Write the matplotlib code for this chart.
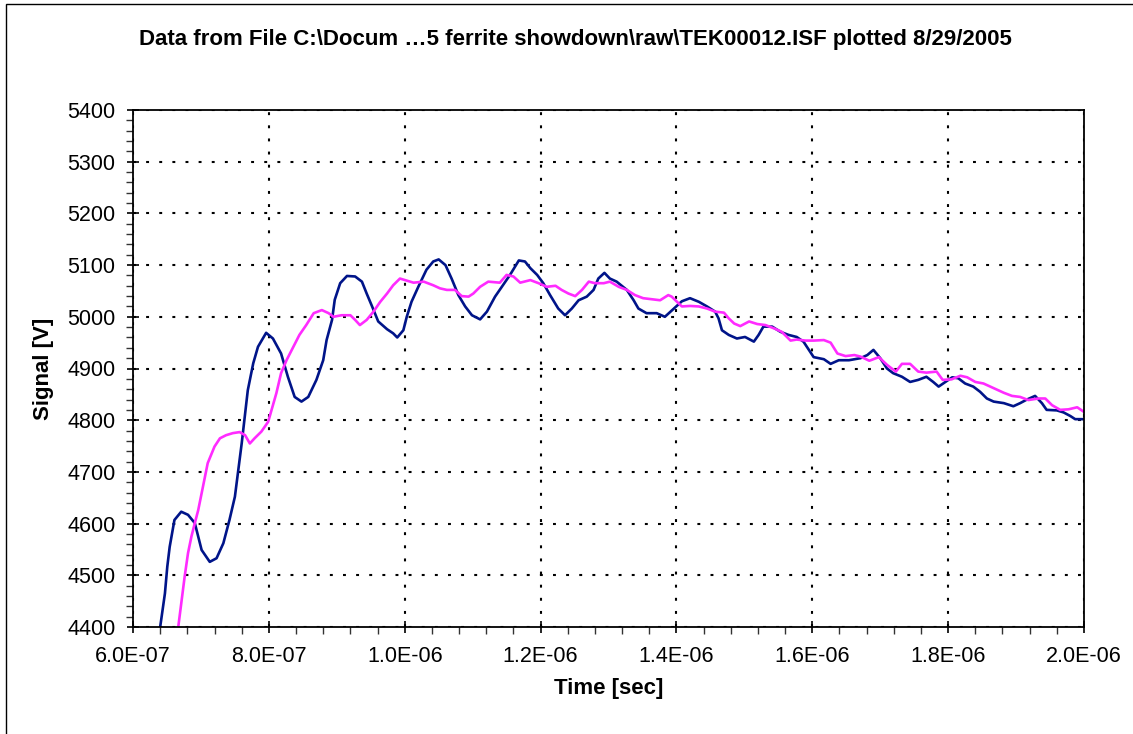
import numpy as np
from matplotlib import pyplot as plt
from matplotlib.patches import Rectangle
from matplotlib.ticker import MultipleLocator, FuncFormatter

plt.rcParams['font.family'] = ['Liberation Sans', 'DejaVu Sans']

title = "Data from File C:\\Docum \u20265 ferrite showdown\\raw\\TEK00012.ISF plotted 8/29/2005"

#blue trace (time in units of 1e-7 sec, signal in V)
t_blue = [6.40, 6.47, 6.505, 6.54, 6.61, 6.71, 6.81, 6.91, 7.01, 7.13, 7.23, 7.33, 7.42, 7.50,
          7.55, 7.60, 7.65, 7.69, 7.77, 7.84, 7.96, 8.06, 8.18, 8.28, 8.38, 8.48, 8.58, 8.70,
          8.80, 8.85, 8.93, 8.97, 9.05, 9.15, 9.27, 9.37, 9.44, 9.52, 9.61, 9.74, 9.83, 9.89,
          9.98, 10.03, 10.10, 10.20, 10.32, 10.42, 10.50, 10.60, 10.69, 10.79, 10.89, 10.99,
          11.11, 11.21, 11.33, 11.43, 11.55, 11.68, 11.77, 11.85, 11.95, 12.04, 12.14, 12.26,
          12.36, 12.46, 12.56, 12.68, 12.78, 12.85, 12.94, 13.02, 13.12, 13.27, 13.37, 13.44,
          13.56, 13.71, 13.83, 13.93, 14.08, 14.20, 14.33, 14.45, 14.57, 14.62, 14.67, 14.77,
          14.89, 15.01, 15.14, 15.21, 15.28, 15.41, 15.53, 15.65, 15.77, 15.87, 15.95, 16.02,
          16.17, 16.27, 16.39, 16.54, 16.71, 16.81, 16.90, 17.00, 17.10, 17.19, 17.32, 17.44,
          17.56, 17.68, 17.78, 17.86, 17.96, 18.06, 18.15, 18.25, 18.37, 18.47, 18.57, 18.67,
          18.82, 18.96, 19.06, 19.16, 19.28, 19.38, 19.45, 19.60, 19.70, 19.80, 19.87, 20.00]
v_blue = [4400, 4465, 4517, 4555, 4607, 4623, 4617, 4601, 4549, 4526, 4533, 4562, 4607, 4652,
          4704, 4755, 4813, 4858, 4910, 4942, 4969, 4958, 4929, 4884, 4845, 4836, 4845, 4878,
          4916, 4955, 4994, 5033, 5065, 5079, 5078, 5068, 5045, 5020, 4991, 4976, 4968, 4960,
          4974, 5000, 5029, 5058, 5091, 5107, 5111, 5100, 5074, 5042, 5020, 5003,
          4995, 5010, 5039, 5058, 5081, 5109, 5107, 5094, 5081, 5065, 5042, 5016,
          5003, 5016, 5032, 5039, 5052, 5074, 5085, 5074, 5068, 5052, 5032, 5016,
          5007, 5007, 5000, 5012, 5030, 5036, 5029, 5020, 5010, 4997, 4974, 4965,
          4958, 4961, 4952, 4965, 4981, 4981, 4971, 4965, 4961, 4952, 4936, 4922,
          4918, 4909, 4916, 4916, 4920, 4926, 4936, 4920, 4900, 4891, 4884, 4874,
          4878, 4884, 4874, 4865, 4874, 4883, 4881, 4871, 4865, 4855, 4842, 4836,
          4833, 4827, 4833, 4840, 4847, 4833, 4820, 4819, 4815, 4808, 4802, 4802]

#magenta trace
t_mag = [6.67, 6.71, 6.76, 6.81, 6.86, 6.91, 6.96, 7.01, 7.06, 7.10, 7.15, 7.20, 7.28, 7.37,
         7.47, 7.57, 7.65, 7.72, 7.79, 7.89, 7.99, 8.04, 8.11, 8.18, 8.26, 8.36, 8.45, 8.55,
         8.66, 8.78, 8.88, 8.95, 9.07, 9.20, 9.27, 9.34, 9.44, 9.54, 9.64, 9.74, 9.83, 9.93,
         10.03, 10.13, 10.28, 10.42, 10.52, 10.62, 10.74, 10.84, 10.94, 11.01, 11.11, 11.23,
         11.40, 11.50, 11.60, 11.70, 11.85, 11.97, 12.09, 12.22, 12.31, 12.41, 12.51, 12.61,
         12.71, 12.80, 12.93, 13.02, 13.15, 13.27, 13.39, 13.51, 13.64, 13.76, 13.88, 13.93,
         14.01, 14.08, 14.20, 14.33, 14.45, 14.57, 14.70, 14.77, 14.85, 14.94, 15.07, 15.19,
         15.31, 15.43, 15.55, 15.68, 15.77, 15.90, 16.02, 16.17, 16.27, 16.37, 16.49, 16.62,
         16.71, 16.84, 16.98, 17.10, 17.23, 17.32, 17.44, 17.56, 17.68, 17.83, 17.92, 18.05,
         18.18, 18.28, 18.40, 18.52, 18.67, 18.82, 18.94, 19.06, 19.18, 19.33, 19.43, 19.53,
         19.65, 19.77, 19.90, 20.00]
v_mag = [4404, 4446, 4497, 4543, 4575, 4601, 4626, 4659, 4691, 4717, 4733, 4749, 4765, 4771,
         4775, 4777, 4771, 4755, 4765, 4778, 4797, 4820, 4852, 4891, 4916, 4942, 4965, 4984,
         5007, 5013, 5007, 5000, 5003, 5003, 4994, 4984, 4994, 5010, 5029, 5045, 5061, 5074,
         5070, 5066, 5068, 5061, 5055, 5052, 5052, 5040, 5039, 5045, 5058, 5068,
         5066, 5081, 5078, 5066, 5071, 5065, 5058, 5060, 5052, 5045, 5040, 5052,
         5068, 5065, 5065, 5068, 5058, 5052, 5042, 5036, 5034, 5032, 5042, 5039,
         5029, 5020, 5021, 5020, 5016, 5010, 5008, 4997, 4987, 4982, 4991, 4986,
         4984, 4978, 4971, 4954, 4956, 4954, 4954, 4955, 4950, 4929, 4924, 4926,
         4923, 4915, 4922, 4907, 4894, 4909, 4909, 4894, 4892, 4894, 4878, 4879,
         4886, 4883, 4874, 4871, 4862, 4853, 4847, 4845, 4839, 4842, 4842, 4829,
         4820, 4821, 4825, 4816]

fig = plt.figure(figsize=(11.33, 7.34), dpi=100)
ax = fig.add_axes([133/1133, 1-627/734, (1084-133)/1133, (627-110)/734])

ax.plot(np.array(t_blue)*1e-7, v_blue, color='#001489', lw=1.9)
ax.plot(np.array(t_mag)*1e-7, v_mag, color='#ff2bff', lw=1.9)

ax.set_xlim(6e-7, 2e-6)
ax.set_ylim(4400, 5400)
ax.xaxis.set_major_locator(MultipleLocator(2e-7))
ax.xaxis.set_minor_locator(MultipleLocator(4e-8))
ax.yaxis.set_major_locator(MultipleLocator(100))
ax.yaxis.set_minor_locator(MultipleLocator(20))
ax.xaxis.set_major_formatter(FuncFormatter(lambda v, p: '%.1E' % v))

# excel style dotted grid
ax.grid(True, which='major', color='black', lw=1.5, linestyle=(0, (1.4, 4.9)))
ax.tick_params(which='major', direction='inout', length=9, width=1.2, labelsize=15.5, color='black')
ax.tick_params(which='minor', direction='out', length=5, width=1.0, color='#333333')
ax.tick_params(axis='x', which='major', pad=9)
ax.tick_params(axis='y', which='major', pad=8)
for s in ax.spines.values():
    s.set_color('black')
    s.set_linewidth(1.3)

ax.set_xlabel('Time [sec]', fontsize=16, fontweight='bold', labelpad=8)
ax.set_ylabel('Signal [V]', fontsize=16, fontweight='bold', labelpad=10)
fig.text(0.5075, 0.946, title, fontsize=16, fontweight='bold', ha='center', va='center')

# outer chart frame
fig.patches.append(Rectangle((6/1133, -0.05), 1.1, 1.05 - 4/734, transform=fig.transFigure,
                             fill=False, ec='black', lw=1.0))

fig.savefig('out.png', dpi=100)
